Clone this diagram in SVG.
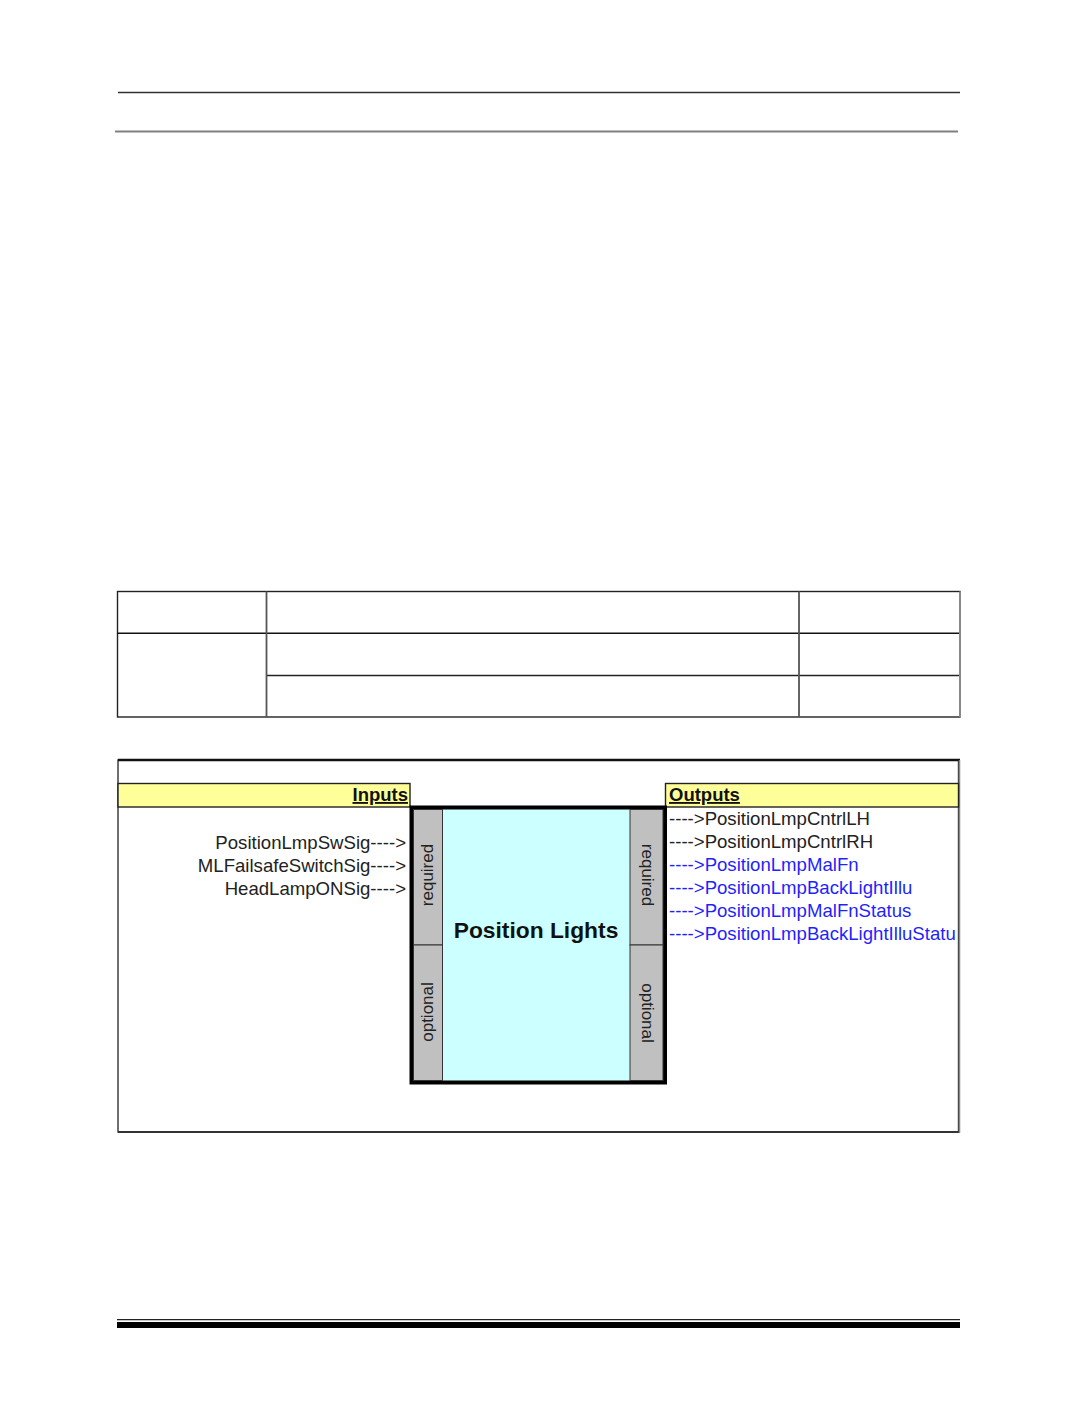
<svg xmlns="http://www.w3.org/2000/svg" width="1075" height="1422" viewBox="0 0 1075 1422">
<style>
.sig{font-family:"Liberation Sans",Arial,sans-serif;font-size:18.6px;fill:#222}
.blue{fill:#1f1fff}
.hdr{font-family:"Liberation Sans",Arial,sans-serif;font-size:18.5px;font-weight:bold;fill:#111;text-decoration:underline}
.rot{font-family:"Liberation Sans",Arial,sans-serif;font-size:17px;fill:#222;text-anchor:middle}
.title{font-family:"Liberation Sans",Arial,sans-serif;font-size:22.8px;font-weight:bold;fill:#111;text-anchor:middle}
.tl{stroke:#222;stroke-width:1.4;fill:none}
.strip{fill:#c0c0c0;stroke:#333;stroke-width:1}
.yel{fill:#ffff99;stroke:#222;stroke-width:1.4}
</style>
<rect width="1075" height="1422" fill="#fff"/>
<g id="page-header">
<line x1="118" y1="92.5" x2="960" y2="92.5" stroke="#333" stroke-width="1.3"/>
<line x1="115" y1="131.5" x2="958" y2="131.5" stroke="#808080" stroke-width="2"/>
</g>
<g id="table">
<rect x="117.5" y="591.5" width="842.5" height="125.5" class="tl"/>
<line x1="117.5" y1="633.3" x2="960" y2="633.3" stroke="#111" stroke-width="1.4"/>
<line x1="266.5" y1="675.5" x2="960" y2="675.5" class="tl"/>
<line x1="266.5" y1="591.5" x2="266.5" y2="717" stroke="#555" stroke-width="1.8"/>
<line x1="799" y1="591.5" x2="799" y2="717" stroke="#555" stroke-width="1.8"/>
<line x1="960" y1="591.5" x2="960" y2="717" stroke="#888" stroke-width="2"/>
</g>
<g id="diagram-frame">
<rect x="118" y="760" width="840.5" height="372" fill="#fff" stroke="#333" stroke-width="1.4"/>
<line x1="118" y1="760" x2="960" y2="760" stroke="#111" stroke-width="2.5"/>
<line x1="118" y1="1132" x2="960" y2="1132" stroke="#333" stroke-width="2"/>
<line x1="959.5" y1="760" x2="959.5" y2="1133" stroke="#888" stroke-width="1.5"/>
</g>
<g id="connectors"></g>
<g id="inputs">
<rect x="118" y="783.5" width="292" height="23.5" class="yel"/>
<text x="408" y="801" class="hdr" text-anchor="end">Inputs</text>
<text x="406" y="849" class="sig" text-anchor="end">PositionLmpSwSig----&gt;</text>
<text x="406" y="872" class="sig" text-anchor="end">MLFailsafeSwitchSig----&gt;</text>
<text x="406" y="895" class="sig" text-anchor="end">HeadLampONSig----&gt;</text>
</g>
<g id="outputs">
<rect x="665.5" y="783.5" width="293" height="23.5" class="yel"/>
<text x="669" y="801" class="hdr">Outputs</text>
<text x="669" y="825" class="sig">----&gt;PositionLmpCntrlLH</text>
<text x="669" y="848" class="sig">----&gt;PositionLmpCntrlRH</text>
<text x="669" y="871" class="sig blue">----&gt;PositionLmpMalFn</text>
<text x="669" y="894" class="sig blue">----&gt;PositionLmpBackLightIllu</text>
<text x="669" y="917" class="sig blue">----&gt;PositionLmpMalFnStatus</text>
<text x="669" y="940" class="sig blue">----&gt;PositionLmpBackLightIlluStatu</text>
</g>
<g id="node-position-lights">
<rect x="411.5" y="807.5" width="253.5" height="275" fill="#ccffff" stroke="#000" stroke-width="4"/>
<rect x="413.5" y="809.5" width="29" height="135.5" class="strip"/>
<rect x="413.5" y="945" width="29" height="135.5" class="strip"/>
<rect x="630" y="809.5" width="33" height="135.5" class="strip"/>
<rect x="630" y="945" width="33" height="135.5" class="strip"/>
<text class="rot" transform="translate(432.5,875) rotate(-90)">required</text>
<text class="rot" transform="translate(432.5,1012) rotate(-90)">optional</text>
<text class="rot" transform="translate(641.5,875) rotate(90)">required</text>
<text class="rot" transform="translate(641.5,1013) rotate(90)">optional</text>
<text x="536" y="938" class="title">Position Lights</text>
</g>
<g id="page-footer">
<line x1="117" y1="1319.7" x2="960" y2="1319.7" stroke="#222" stroke-width="1.3"/>
<line x1="117" y1="1325" x2="960" y2="1325" stroke="#000" stroke-width="6"/>
</g>
</svg>
